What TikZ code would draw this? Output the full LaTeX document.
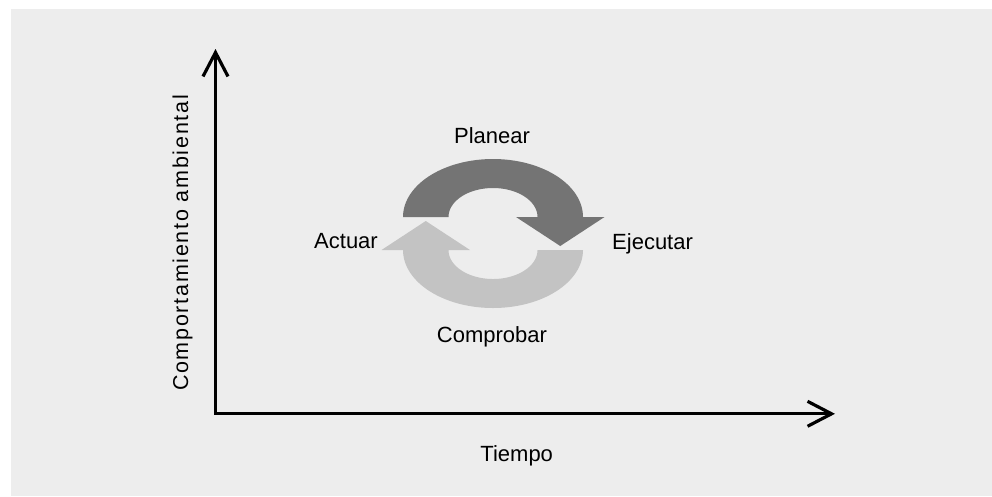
\documentclass[tikz,border=0pt]{standalone}
\usepackage{fontspec}
\setmainfont{Liberation Sans}
\usetikzlibrary{arrows.meta}
\newfontfamily\spacedfont[LetterSpace=8]{Liberation Sans}
\definecolor{bggrey}{RGB}{237,237,237}
\definecolor{darkarr}{RGB}{116,116,116}
\definecolor{lightarr}{RGB}{195,195,195}
\tikzset{
  axisline/.style={line width=3.2pt, {Straight Barb[length=24pt,width=25pt]}-{Straight Barb[length=24pt,width=25pt]}},
  lbl/.style={inner sep=0pt, anchor=base, font=\fontsize{22}{24}\selectfont}
}
\begin{document}
\begin{tikzpicture}[x=1pt,y=-1pt]
\useasboundingbox (0,0) rectangle (992,496);
\fill[bggrey] (11,9) rectangle (992,496);
% axes
\coordinate (ytop) at (215.5,49);
\coordinate (origin) at (215.5,413.8);
\coordinate (xend) at (835,413.8);
\draw[axisline] (ytop) -- (origin) -- (xend);
% upper (dark) cycle arrow
\fill[darkarr] (403,217)
  -- plot[domain=180:360, samples=73] ({493+90*cos(\x)},{217+58*sin(\x)})
  -- (604.5,217) -- (560.25,246) -- (516,217) -- (537.5,217)
  -- plot[domain=360:180, samples=73] ({493+44.5*cos(\x)},{217+29*sin(\x)})
  -- cycle;
% lower (light) cycle arrow
\begin{scope}[rotate around={180:(493,233.5)}]
\fill[lightarr] (403,217)
  -- plot[domain=180:360, samples=73] ({493+90*cos(\x)},{217+58*sin(\x)})
  -- (604.5,217) -- (560.25,246) -- (516,217) -- (537.5,217)
  -- plot[domain=360:180, samples=73] ({493+44.5*cos(\x)},{217+29*sin(\x)})
  -- cycle;
\end{scope}
% labels
\node[lbl] (planear) at (492,143.3) {Planear};
\node[lbl] (comprobar) at (492,342.3) {Comprobar};
\node[lbl, anchor=base west] (ejecutar) at (612,249.3) {Ejecutar};
\node[lbl, anchor=base east] (actuar) at (378,248.8) {Actuar};
\node[lbl] (tiempo) at (516.7,461.7) {Tiempo};
\node[inner sep=0pt, anchor=base, rotate=90, font=\fontsize{21.5}{24}\spacedfont] (compamb) at (188,243) {Comportamiento ambiental};
\end{tikzpicture}
\end{document}
